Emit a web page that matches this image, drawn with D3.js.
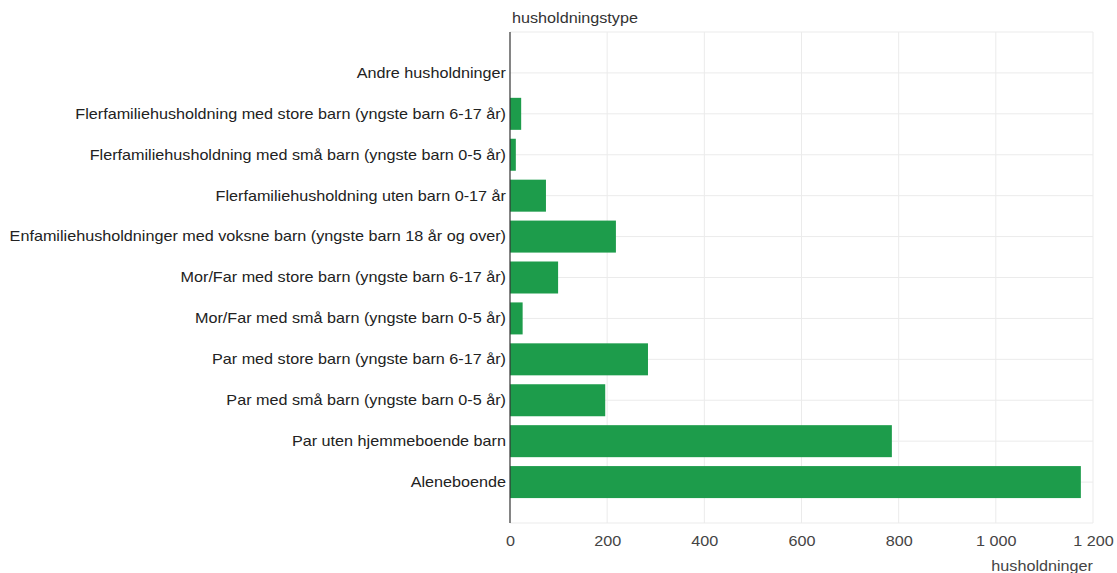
<!DOCTYPE html>
<html><head><meta charset="utf-8">
<script src="https://cdn.jsdelivr.net/npm/d3@7"></script>
<style>
body{margin:0;background:#fff;}
text{font-family:"Liberation Sans",Arial,sans-serif;}
</style></head>
<body><svg id="c" width="1117" height="573"></svg>
<script>
const categories = [
  "Andre husholdninger",
  "Flerfamiliehusholdning med store barn (yngste barn 6-17 år)",
  "Flerfamiliehusholdning med små barn (yngste barn 0-5 år)",
  "Flerfamiliehusholdning uten barn 0-17 år",
  "Enfamiliehusholdninger med voksne barn (yngste barn 18 år og over)",
  "Mor/Far med store barn (yngste barn 6-17 år)",
  "Mor/Far med små barn (yngste barn 0-5 år)",
  "Par med store barn (yngste barn 6-17 år)",
  "Par med små barn (yngste barn 0-5 år)",
  "Par uten hjemmeboende barn",
  "Aleneboende"
];
const values = [0, 23, 12, 74, 218, 99, 26, 284, 196, 786, 1175];
const xTicks = [0, 200, 400, 600, 800, 1000, 1200];
const xTickLabels = ["0", "200", "400", "600", "800", "1 000", "1 200"];
const yTitle = "husholdningstype";
const xTitle = "husholdninger";

const svg = d3.select("#c");
const L = 510, R = 1093, T = 32, B = 523;
const SX = 1.156; // horizontal text stretch seen in the reference
const x = d3.scaleLinear().domain([0, 1200]).range([L, R]);
const y = d3.scalePoint().domain(categories).range([T, B]).padding(1);
const barH = 32;

// vertical gridlines
svg.append("g").selectAll("line").data(xTicks.slice(1)).join("line")
  .attr("x1", d => x(d)).attr("x2", d => x(d)).attr("y1", T).attr("y2", B)
  .attr("stroke", "#ebebeb").attr("stroke-width", 1);
// horizontal gridlines
const hLines = [T, ...categories.map(c => y(c)), B];
svg.append("g").selectAll("line").data(hLines).join("line")
  .attr("x1", L).attr("x2", R).attr("y1", d => d).attr("y2", d => d)
  .attr("stroke", "#ebebeb").attr("stroke-width", 1);

// bars
svg.append("g").selectAll("rect").data(categories).join("rect")
  .attr("x", x(0))
  .attr("y", d => y(d) - barH / 2)
  .attr("width", (d, i) => x(values[i]) - x(0))
  .attr("height", barH)
  .attr("fill", "#1d9c4b");

// y axis line
svg.append("line").attr("x1", L).attr("x2", L).attr("y1", T).attr("y2", B)
  .attr("stroke", "#333").attr("stroke-width", 1.2);

// category labels
svg.append("g").selectAll("text").data(categories).join("text")
  .attr("transform", d => `translate(${L - 4},${y(d)}) scale(${SX},1)`)
  .attr("dy", "0.35em")
  .attr("text-anchor", "end").attr("font-size", 14).attr("fill", "#222")
  .text(d => d);

// x tick labels
const xa = d3.axisBottom(x).tickValues(xTicks).tickSize(0).tickPadding(0)
  .tickFormat((d, i) => xTickLabels[i]);
const gx = svg.append("g").attr("transform", `translate(0,${B + 18})`).call(xa);
gx.select(".domain").remove();
gx.selectAll("text").attr("font-size", 14).attr("fill", "#444")
  .attr("font-family", "Liberation Sans, Arial, sans-serif").attr("dy", "0.35em").attr("y", 0)
  .attr("transform", `scale(${SX},1)`);

// titles
svg.append("text").attr("transform", `translate(${L + 2},23) scale(${SX},1)`)
  .attr("font-size", 14).attr("fill", "#333").text(yTitle);
svg.append("text").attr("transform", `translate(${R},571) scale(${SX},1)`)
  .attr("text-anchor", "end").attr("font-size", 14).attr("fill", "#444").text(xTitle);
</script>
</body></html>
